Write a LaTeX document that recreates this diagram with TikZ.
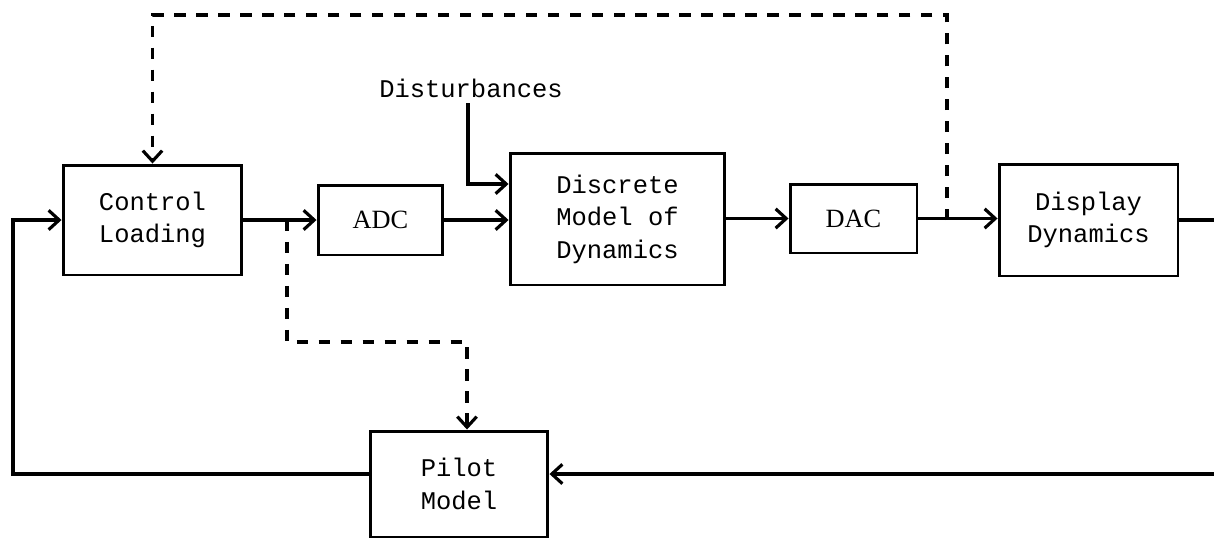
\documentclass[tikz,border=0pt]{standalone}
\usepackage{fontspec}
\setmonofont{Liberation Mono}
\newfontfamily\convfont{Liberation Serif}
\usetikzlibrary{arrows.meta}

\begin{document}
\begin{tikzpicture}[x=0.02cm, y=-0.02cm,
  block/.style={draw, line width=1.7pt, align=center, inner sep=0pt,
    font=\ttfamily\fontsize{14.5}{18.5}\selectfont},
  conv/.style={block, font=\convfont\fontsize{15}{18}\selectfont},
  sig/.style={line width=1.8pt},
  tip/.style={-{Straight Barb[length=6pt,width=11pt,line width=1.8pt]}},
  dash line/.style={sig, dash pattern=on 6.5pt off 6pt}]

\useasboundingbox (0,0) rectangle (1214,538);

% blocks
\node[block, minimum width=3.58cm, minimum height=2.2cm] (ctrl) at (152.5,220) {Control\\Loading};
\node[conv, minimum width=2.5cm, minimum height=1.4cm] (adc) at (380.5,220) {ADC};
\node[block, minimum width=4.3cm, minimum height=2.64cm] (disc) at (617.5,219) {Discrete\\Model of\\Dynamics};
\node[conv, minimum width=2.54cm, minimum height=1.38cm] (dac) at (853.5,218.5) {DAC};
\node[block, minimum width=3.58cm, minimum height=2.24cm] (disp) at (1088.5,220) {Display\\Dynamics};
\node[block, minimum width=3.56cm, minimum height=2.12cm] (pilot) at (459,484) {Pilot\\Model};
\node[font=\ttfamily\fontsize{14.5}{18.5}\selectfont, anchor=base] (dist) at (471,97) {Disturbances};

\coordinate (din) at (468,184);
\coordinate (tapd) at (947,220);
\coordinate (tapa) at (287,220);
\coordinate (pk) at (467,342);
\coordinate (rt) at (1214,474);
\coordinate (lb) at (13,474);
\coordinate (re) at (1214,220);

% forward path
\draw[sig, tip] (ctrl.east) -- (adc.west);
\draw[sig, tip] (adc.east) -- (disc.west |- adc.east);
\draw[sig, tip] (disc.east |- dac.west) -- (dac.west);
\draw[sig, tip] (dac.east) -- (disp.west |- dac.east);
\draw[sig] (disp.east) -- (re);
\draw[sig, tip] (din |- dist.south) -- (din) -- (din -| disc.west);

% feedback through the pilot
\draw[sig, tip] (rt) -- (rt -| pilot.east);
\draw[sig, tip] (pilot.west |- lb) -- (lb) |- (ctrl.west);

% dashed paths
\draw[dash line, tip] (tapd) -- ++(0,-205) -| (ctrl.north);
\draw[dash line, tip] (tapa) |- (pk) -- (pk |- pilot.north);

\end{tikzpicture}
\end{document}
